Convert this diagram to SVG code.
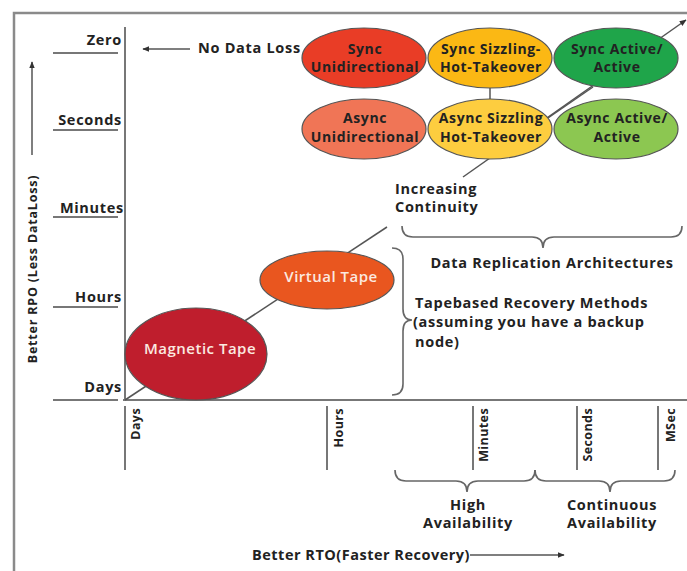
<svg xmlns="http://www.w3.org/2000/svg" width="687" height="571" viewBox="0 0 687 571">
<defs>
<marker id="ah" viewBox="0 0 10 10" refX="9" refY="5" markerWidth="7" markerHeight="7" markerUnits="userSpaceOnUse" orient="auto">
<path d="M0,1 L10,5 L0,9 Z" fill="#333"/>
</marker>
<style>
.frame{stroke:#8a8a8a;stroke-width:2.5;fill:none}
.ax{stroke:#777;stroke-width:2;fill:none}
.ln{stroke:#555;stroke-width:1.5;fill:none}
.br{stroke:#666;stroke-width:1.6;fill:none}
.t{font-family:"Open Sans","DejaVu Sans",sans-serif;font-weight:700;font-size:14.5px;letter-spacing:0.7px;fill:#222}
.r{font-size:12.5px;letter-spacing:0.4px}
.c{text-anchor:middle}
.n{font-size:14px;letter-spacing:0.6px}
.e{stroke:#555;stroke-width:1.2}
.w{font-family:"Open Sans","DejaVu Sans",sans-serif;font-weight:600;font-size:15px;letter-spacing:0.5px;fill:#fbe9e0;text-anchor:middle}
</style>
</defs>
<rect width="687" height="571" fill="#fff"/>
<g id="frame">
<path class="frame" d="M14,571 L14,13 L687,13"/>
</g>
<g id="axes">
<line class="ax" x1="125" y1="27" x2="125" y2="401"/>
<line class="ax" x1="123" y1="400" x2="687" y2="400"/>
<line class="ax" x1="53" y1="53" x2="118" y2="53"/>
<line class="ax" x1="53" y1="130" x2="118" y2="130"/>
<line class="ax" x1="53" y1="217" x2="118" y2="217"/>
<line class="ax" x1="53" y1="307" x2="118" y2="307"/>
<line class="ax" x1="53" y1="400" x2="118" y2="400"/>
<line class="ax" x1="125" y1="406" x2="125" y2="470"/>
<line class="ax" x1="327" y1="406" x2="327" y2="470"/>
<line class="ax" x1="473" y1="406" x2="473" y2="470"/>
<line class="ax" x1="577" y1="406" x2="577" y2="470"/>
<line class="ax" x1="658" y1="406" x2="658" y2="470"/>
<text class="t" x="122" y="45" text-anchor="end">Zero</text>
<text class="t" x="122" y="125" text-anchor="end">Seconds</text>
<text class="t" x="124" y="213" text-anchor="end">Minutes</text>
<text class="t" x="122" y="302" text-anchor="end">Hours</text>
<text class="t" x="122" y="392" text-anchor="end">Days</text>
<text class="t r" transform="translate(140,408) rotate(-90)" text-anchor="end">Days</text>
<text class="t r" transform="translate(343,408) rotate(-90)" text-anchor="end">Hours</text>
<text class="t r" transform="translate(488,408) rotate(-90)" text-anchor="end">Minutes</text>
<text class="t r" transform="translate(592,408) rotate(-90)" text-anchor="end">Seconds</text>
<text class="t r" transform="translate(675,408) rotate(-90)" text-anchor="end">MSec</text>
<line class="ln" x1="32" y1="155" x2="32" y2="62" marker-end="url(#ah)"/>
<text class="t r" transform="translate(37,269) rotate(-90)" text-anchor="middle" style="letter-spacing:0.8px">Better RPO (Less DataLoss)</text>
<line class="ln" x1="190" y1="49" x2="143" y2="49" marker-end="url(#ah)"/>
<text class="t" x="198" y="53">No Data Loss</text>
<text class="t" x="252" y="560" style="letter-spacing:0.5px">Better RTO(Faster Recovery)</text>
<line class="ln" x1="470" y1="555" x2="564" y2="555" marker-end="url(#ah)"/>
</g>
<g id="connectors">
<polyline class="ln" points="125,400 387,227"/>
<line class="ln" x1="463" y1="177" x2="686" y2="20" marker-end="url(#ah)"/>
<line class="ln" x1="490" y1="88" x2="490" y2="99"/>
</g>
<g id="braces">
<path class="br" d="M402,226 Q402,237 413,237 L532,237 Q543,237 543,248 Q543,237 554,237 L671,237 Q682,237 682,226"/>
<path class="br" d="M392,248 Q403,248 403,259 L403,309 Q403,320 412,320 Q403,320 403,331 L403,384 Q403,395 392,395"/>
<path class="br" d="M395,470 Q395,481 406,481 L456,481 Q467,481 467,492 Q467,481 478,481 L524,481 Q535,481 535,470"/>
<path class="br" d="M535,470 Q535,481 546,481 L599,481 Q610,481 610,492 Q610,481 621,481 L664,481 Q675,481 675,470"/>
<text class="t" x="395" y="194">Increasing</text>
<text class="t" x="395" y="212">Continuity</text>
<text class="t c" x="552" y="268">Data Replication Architectures</text>
<text class="t" x="415" y="308">Tapebased Recovery Methods</text>
<text class="t" x="413" y="327">(assuming you have a backup</text>
<text class="t" x="415" y="347">node)</text>
<text class="t c" x="468" y="510">High</text>
<text class="t c" x="468" y="528">Availability</text>
<text class="t c" x="612" y="510">Continuous</text>
<text class="t c" x="612" y="528">Availability</text>
</g>
<g id="magnetic-tape">
<ellipse class="e" cx="196" cy="354" rx="71" ry="46" fill="#bf1e2d"/>
<text class="w" x="200" y="354">Magnetic Tape</text>
</g>
<g id="virtual-tape">
<ellipse class="e" cx="327" cy="280" rx="67" ry="29" fill="#e9561f"/>
<text class="w" x="331" y="282">Virtual Tape</text>
</g>
<g id="sync-uni">
<ellipse class="e" cx="364" cy="58" rx="62" ry="30" fill="#e93d26"/>
<text class="t c n" x="365" y="54">Sync</text>
<text class="t c n" x="365" y="72">Unidirectional</text>
</g>
<g id="sync-sizzling">
<ellipse class="e" cx="490" cy="58" rx="62" ry="30" fill="#fbb814"/>
<text class="t c n" x="491" y="54">Sync Sizzling-</text>
<text class="t c n" x="491" y="72">Hot-Takeover</text>
</g>
<g id="sync-active">
<ellipse class="e" cx="616" cy="58" rx="62" ry="30" fill="#1fa54a"/>
<text class="t c n" x="617" y="54">Sync Active/</text>
<text class="t c n" x="617" y="72">Active</text>
</g>
<g id="async-uni">
<ellipse class="e" cx="364" cy="129" rx="62" ry="30" fill="#f07556"/>
<text class="t c n" x="365" y="123">Async</text>
<text class="t c n" x="365" y="142">Unidirectional</text>
</g>
<g id="async-sizzling">
<ellipse class="e" cx="490" cy="129" rx="62" ry="30" fill="#fdcd3f"/>
<text class="t c n" x="491" y="123">Async Sizzling</text>
<text class="t c n" x="491" y="142">Hot-Takeover</text>
</g>
<g id="async-active">
<ellipse class="e" cx="616" cy="129" rx="62" ry="30" fill="#8cc751"/>
<text class="t c n" x="617" y="123">Async Active/</text>
<text class="t c n" x="617" y="142">Active</text>
</g>
<line class="ln" x1="548" y1="118" x2="593" y2="87"/>
</svg>
